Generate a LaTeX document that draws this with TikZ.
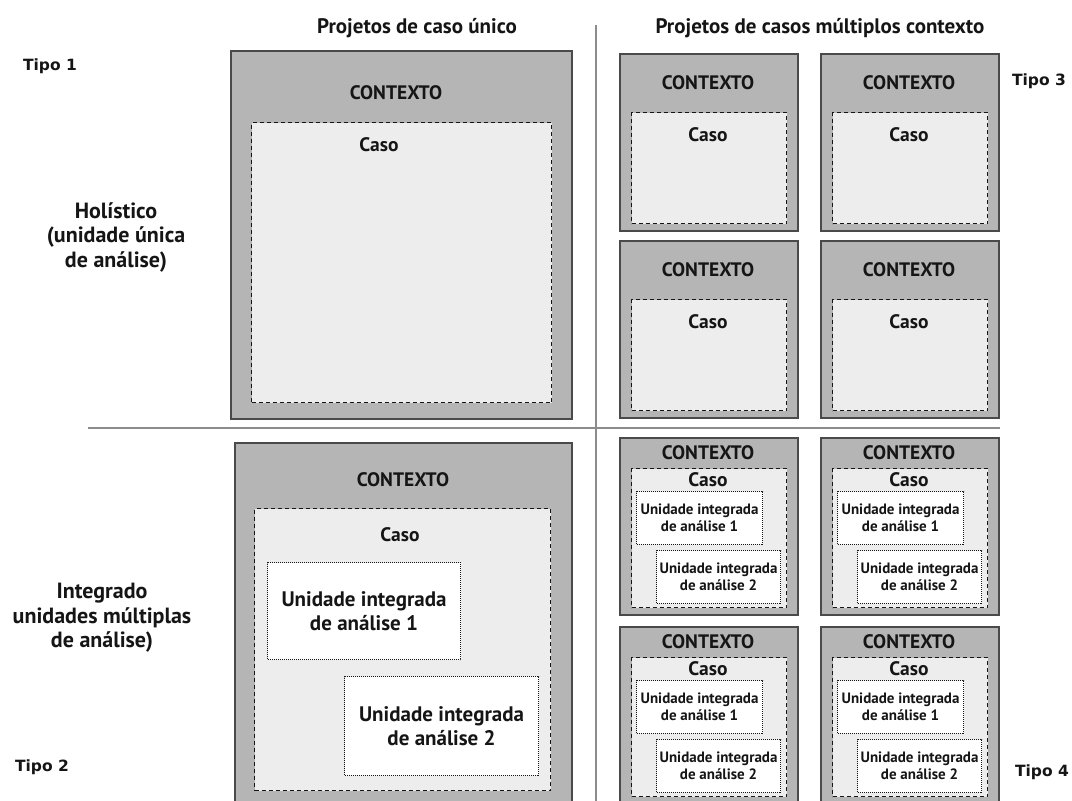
\documentclass[tikz,border=0pt]{standalone}
\usepackage{fontspec}
\setmainfont{PT Sans}
\newfontfamily\tipofont{DejaVu Sans}
\usetikzlibrary{calc}
\definecolor{ctxgray}{HTML}{B5B5B5}
\definecolor{casefill}{HTML}{EDEDED}
\definecolor{linegray}{HTML}{8C8C8C}
\definecolor{edgegray}{HTML}{4A4A4A}
\definecolor{inkc}{HTML}{151515}
\tikzset{
  ctxbox/.style={draw=edgegray, fill=ctxgray, line width=1.5pt, anchor=north west, inner sep=0pt},
  casebox/.style={draw=inkc, fill=casefill, dash pattern=on 4pt off 3pt, line width=1pt, anchor=north west, inner sep=0pt},
  unitbox/.style={draw=inkc, fill=white, dash pattern=on 1pt off 1pt, line width=1.1pt, anchor=north west, inner sep=0pt},
  lbl/.style={font=\bfseries\fontsize{19.5}{22}\selectfont, text=inkc, inner sep=0pt},
  ttl/.style={font=\bfseries\fontsize{21}{24}\selectfont, text=inkc, inner sep=0pt},
  rowlbl/.style={font=\bfseries\fontsize{22}{24.5}\selectfont, text=inkc, align=center, inner sep=0pt},
  bigunit/.style={font=\bfseries\fontsize{21}{23.5}\selectfont, text=inkc, align=center, inner sep=0pt},
  smallunit/.style={font=\bfseries\fontsize{15}{17}\selectfont, text=inkc, align=center, inner sep=0pt},
  tipo/.style={font=\tipofont\bfseries\fontsize{15.5}{18}\selectfont, text=inkc, inner sep=0pt},
  divider/.style={draw=linegray, line width=2.5pt}
}
\newcommand\tipotres[3]{%
  \node[ctxbox, minimum width=178pt, minimum height=177pt] (#1) at (#2,#3) {};
  \node[casebox, minimum width=155pt, minimum height=111pt] (#1c) at ($(#1.north west)+(12,59)$) {};
  \node[lbl] (#1t) at ($(#1.north west)+(89,30)$) {CONTEXTO};
  \node[lbl] (#1k) at ($(#1.north west)+(89,82)$) {Caso};
}
\newcommand\tipoquatro[3]{%
  \node[ctxbox, minimum width=178pt, minimum height=177pt] (#1) at (#2,#3) {};
  \node[casebox, minimum width=155pt, minimum height=139pt] (#1c) at ($(#1.north west)+(12,31)$) {};
  \node[lbl] (#1t) at ($(#1.north west)+(89,16)$) {CONTEXTO};
  \node[lbl] (#1k) at ($(#1.north west)+(89,43)$) {Caso};
  \node[unitbox, minimum width=126pt, minimum height=53pt] (#1u) at ($(#1.north west)+(17,54)$) {};
  \node[smallunit] (#1ut) at (#1u.center) {Unidade integrada\\de análise 1};
  \node[unitbox, minimum width=124pt, minimum height=53pt] (#1v) at ($(#1.north west)+(37,113)$) {};
  \node[smallunit] (#1vt) at (#1v.center) {Unidade integrada\\de análise 2};
}
\begin{document}
\begin{tikzpicture}[x=1pt,y=-1pt]
\useasboundingbox[fill=white] (0,0) rectangle (1072,801);
% dividers
\coordinate (vtop) at (596,25);
\coordinate (vbot) at (596,801);
\coordinate (hl) at (88,428);
\coordinate (hr) at (1000,428);
\draw[divider] (vtop) -- (vbot);
\draw[divider] (hl) -- (hr);
% titles
\node[ttl] (title1) at (417,28) {Projetos de caso único};
\node[ttl] (title2) at (820,28) {Projetos de casos múltiplos contexto};
% type labels
\node[tipo] (tipo1) at (50,66) {Tipo 1};
\node[tipo] (tipo2) at (42,767) {Tipo 2};
\node[tipo] (tipo3) at (1039,81) {Tipo 3};
\node[tipo] (tipo4) at (1042,772) {Tipo 4};
% row labels
\node[rowlbl] (hol) at (116,237) {Holístico\\(unidade única\\de análise)};
\node[rowlbl] (int) at (102,618) {Integrado\\unidades múltiplas\\de análise)};
% type 1
\node[ctxbox, minimum width=341pt, minimum height=368pt] (t1) at (230,50) {};
\node[casebox, minimum width=300pt, minimum height=280pt] (t1c) at (251,122) {};
\node[lbl] (t1t) at (396,93) {CONTEXTO};
\node[lbl] (t1k) at (379,145) {Caso};
% type 2
\node[ctxbox, minimum width=337pt, minimum height=364pt] (t2) at (234,442) {};
\node[casebox, minimum width=296pt, minimum height=282pt] (t2c) at (254,508) {};
\node[lbl] (t2t) at (403,480) {CONTEXTO};
\node[lbl] (t2k) at (400,535) {Caso};
\node[unitbox, minimum width=193pt, minimum height=97pt] (t2u) at (267,562) {};
\node[bigunit] (t2ut) at (t2u.center) {Unidade integrada\\de análise 1};
\node[unitbox, minimum width=194pt, minimum height=99pt] (t2v) at (344,676) {};
\node[bigunit] (t2vt) at (t2v.center) {Unidade integrada\\de análise 2};
% type 3
\tipotres{a}{619}{53}
\tipotres{b}{820}{53}
\tipotres{c}{619}{240}
\tipotres{d}{820}{240}
% type 4
\tipoquatro{e}{619}{437}
\tipoquatro{f}{820}{437}
\tipoquatro{g}{619}{626}
\tipoquatro{h}{820}{626}
\end{tikzpicture}
\end{document}
